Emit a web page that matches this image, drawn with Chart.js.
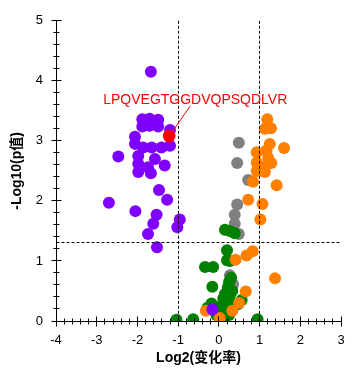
<!DOCTYPE html>
<html>
<head>
<meta charset="utf-8">
<script src="https://cdn.jsdelivr.net/npm/chart.js@4"></script>
<style>
  body { margin: 0; background: #fff; }
  #volcano { display: block; }
</style>
</head>
<body>
<canvas id="volcano" width="360" height="382"></canvas>
<script>
// Data (log2 fold change, -log10 p)
const highlighted = [[-1.22, 3.08]];
const highlightLabel = "LPQVEGTGGDVQPSQDLVR";

const downRegulated = [
  [-1.67, 4.15],
  [-1.88, 3.36], [-1.70, 3.37], [-1.49, 3.35], [-1.79, 3.31], [-1.59, 3.31],
  [-1.88, 3.24], [-1.70, 3.25], [-1.49, 3.24],
  [-1.20, 3.18],
  [-2.06, 3.07], [-2.06, 2.95],
  [-1.20, 2.92], [-1.41, 2.89], [-1.65, 2.89], [-1.86, 2.89],
  [-2.47, 2.74], [-1.98, 2.75], [-1.57, 2.70],
  [-1.98, 2.62], [-1.74, 2.56], [-1.33, 2.59],
  [-1.98, 2.48], [-1.67, 2.46],
  [-1.47, 2.18], [-1.27, 2.02],
  [-2.70, 1.97], [-2.05, 1.83], [-1.53, 1.77], [-1.61, 1.62], [-1.74, 1.45],
  [-0.96, 1.69], [-1.02, 1.56], [-1.52, 1.23],
  [-0.16, 0.19]
];

const upRegulated = [
  [1.19, 3.36], [1.13, 3.20], [1.28, 3.21],
  [1.25, 2.95], [1.60, 2.88], [0.93, 2.81], [1.17, 2.84],
  [1.21, 2.72], [0.93, 2.64], [1.29, 2.63], [1.13, 2.57],
  [0.93, 2.50], [1.13, 2.48],
  [0.84, 2.32], [1.42, 2.26],
  [0.72, 2.02], [1.07, 1.95], [1.02, 1.69],
  [0.83, 1.16], [0.68, 1.09], [0.41, 1.02], [1.38, 0.71],
  [0.66, 0.49], [0.50, 0.30], [0.33, 0.17], [-0.32, 0.17], [0.02, 0.05]
];

const unchanged = [
  [0.15, 1.52], [0.27, 1.50], [0.39, 1.46],
  [0.20, 1.18], [0.20, 1.01], [0.27, 1.00],
  [-0.34, 0.90], [-0.14, 0.90],
  [0.30, 0.72], [0.25, 0.65], [0.22, 0.56], [0.33, 0.50], [-0.16, 0.57],
  [0.15, 0.45], [0.27, 0.42], [0.11, 0.38],
  [0.56, 0.35], [0.47, 0.28], [0.30, 0.28], [0.20, 0.30],
  [-0.18, 0.29], [-0.28, 0.22], [0.05, 0.25],
  [0.19, 0.18], [-0.06, 0.10], [0.25, 0.10], [0.10, 0.04],
  [-0.63, 0.03], [-1.04, 0.02], [0.95, 0.03]
];

const otherPoints = [
  [0.49, 2.97], [0.45, 2.63], [0.72, 2.35], [0.45, 1.94], [0.39, 1.77],
  [0.39, 1.62], [0.49, 1.45], [0.27, 0.76], [0.35, 0.61]
];

const xTicks = [-4, -3, -2, -1, 0, 1, 2, 3];
const yTicks = [0, 1, 2, 3, 4, 5];
const foldCutoffs = [-1, 1];
const pCutoff = 1.301; // -log10(0.05)

const toXY = arr => arr.map(p => ({ x: p[0], y: p[1] }));
const fontFam = "'Liberation Sans', Arial, 'Noto Sans CJK SC', sans-serif";

// axes, minor ticks, cutoff lines and label
const decorPlugin = {
  id: 'decor',
  afterDraw(chart) {
    const c = chart.ctx;
    const xs = chart.scales.x, ys = chart.scales.y;
    const x0 = Math.floor(xs.getPixelForValue(xTicks[0])) + 0.5;
    const x1 = xs.getPixelForValue(xTicks[xTicks.length - 1]);
    const y0 = Math.floor(ys.getPixelForValue(yTicks[0])) + 0.5;
    const y1 = ys.getPixelForValue(yTicks[yTicks.length - 1]);
    c.save();
    c.strokeStyle = '#000';
    c.lineWidth = 1;

    // dashed cutoffs
    c.setLineDash([3, 2]);
    c.beginPath();
    foldCutoffs.forEach(v => {
      const px = Math.floor(xs.getPixelForValue(v)) + 0.5;
      c.moveTo(px, y1);
      c.lineTo(px, y0);
    });
    const py = Math.floor(ys.getPixelForValue(pCutoff)) + 0.5;
    c.moveTo(x0, py);
    c.lineTo(x1, py);
    c.stroke();
    c.setLineDash([]);

    // axis lines
    c.beginPath();
    c.moveTo(x0, y1); c.lineTo(x0, y0); c.lineTo(x1, y0);
    // y ticks
    for (let i = 0; i <= (yTicks.length - 1) * 5; i++) {
      const v = yTicks[0] + i * 0.2;
      const p = Math.floor(ys.getPixelForValue(v)) + 0.5;
      const len = i % 5 === 0 ? 5 : 3;
      c.moveTo(x0 - len, p); c.lineTo(x0 + len, p);
    }
    // x ticks
    for (let i = 0; i <= (xTicks.length - 1) * 5; i++) {
      const v = xTicks[0] + i * 0.2;
      const p = Math.floor(xs.getPixelForValue(v)) + 0.5;
      const len = i % 5 === 0 ? 5 : 3;
      c.moveTo(p, y0 - len); c.lineTo(p, y0 + len);
    }
    c.stroke();

    // highlighted label
    const hx = xs.getPixelForValue(highlighted[0][0]);
    const hy = ys.getPixelForValue(highlighted[0][1]);
    c.strokeStyle = '#ff0000';
    c.beginPath();
    c.moveTo(hx + 3.5, hy - 5);
    c.lineTo(hx + 21, hy - 30);
    c.stroke();
    c.fillStyle = '#ff0000';
    c.font = '14px ' + fontFam;
    c.textBaseline = 'alphabetic';
    c.textAlign = 'left';
    c.fillText(highlightLabel, hx - 66, hy - 32);
    c.restore();
  }
};

const ctx = document.getElementById('volcano').getContext('2d');
const volcano = new Chart(ctx, {
  type: 'scatter',
  data: {
    datasets: [
      { data: toXY(highlighted), backgroundColor: '#ff0000', pointRadius: 6.3 },
      { data: toXY(downRegulated), backgroundColor: '#8000ff', pointRadius: 6 },
      { data: toXY(upRegulated), backgroundColor: '#ff8000', pointRadius: 6 },
      { data: toXY(unchanged), backgroundColor: '#008000', pointRadius: 6 },
      { data: toXY(otherPoints), backgroundColor: '#808080', pointRadius: 6 }
    ].map(d => Object.assign(d, { borderWidth: 0, pointHoverRadius: d.pointRadius, clip: 0 }))
  },
  options: {
    responsive: false,
    animation: false,
    devicePixelRatio: 1,
    layout: { padding: { left: 0, right: 19, top: 19, bottom: 0 } },
    plugins: { legend: { display: false }, tooltip: { enabled: false } },
    scales: {
      x: {
        type: 'linear',
        min: xTicks[0],
        max: xTicks[xTicks.length - 1],
        grid: { display: false, drawTicks: false },
        border: { display: false },
        ticks: { stepSize: 1, color: '#000', padding: 12, font: { family: fontFam, size: 13 } },
        title: {
          display: true,
          text: 'Log2(变化率)',
          color: '#000',
          font: { family: fontFam, size: 14, weight: 'bold' },
          padding: { top: 0, bottom: 15 }
        },
        afterFit: s => { s.height = 61; }
      },
      y: {
        type: 'linear',
        min: yTicks[0],
        max: yTicks[yTicks.length - 1],
        grid: { display: false, drawTicks: false },
        border: { display: false },
        ticks: { stepSize: 1, color: '#000', padding: 13, font: { family: fontFam, size: 13 } },
        title: {
          display: true,
          text: '-Log10(p值)',
          color: '#000',
          font: { family: fontFam, size: 14, weight: 'bold' },
          padding: { top: 9, bottom: 0 }
        },
        afterFit: s => { s.width = 56; }
      }
    }
  },
  plugins: [decorPlugin]
});
</script>
</body>
</html>
